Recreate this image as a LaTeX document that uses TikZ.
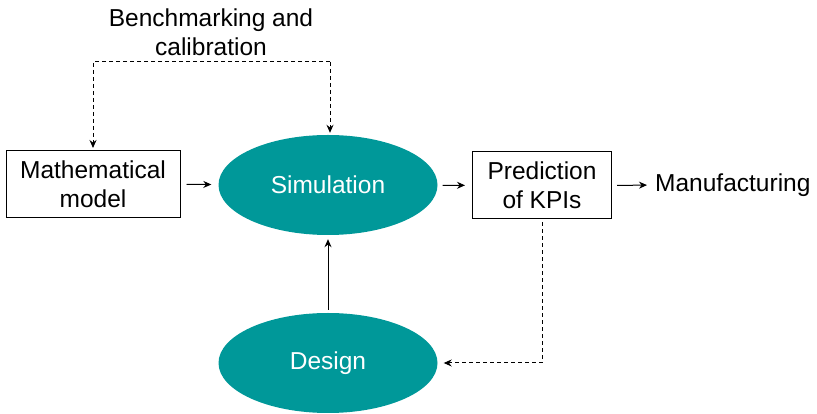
\documentclass[tikz,border=0pt]{standalone}
\usepackage{fontspec}
\setmainfont{Liberation Sans}
\usepackage{tikz}
\usetikzlibrary{arrows.meta,calc,positioning,shapes.geometric}
\definecolor{teal}{RGB}{0,152,153}
\tikzset{
  txt/.style={font=\fontsize{24.5}{29}\selectfont, align=center, inner sep=0pt},
  boxnode/.style={txt, draw, line width=1pt, minimum height=67pt},
  bubble/.style={txt, ellipse, fill=teal, text=white, minimum width=219pt, minimum height=100pt},
  arr/.style={line width=1pt, -{Stealth[length=8pt,width=7pt]}},
  dsh/.style={arr, dash pattern=on 4pt off 3pt}
}

\begin{document}
\begin{tikzpicture}[x=1pt,y=1pt]
\useasboundingbox (0,0) rectangle (817,414);
\node[boxnode, minimum width=174pt] (math) at (93,230) {Mathematical\\model};
\node[bubble] (sim) at (328,229) {Simulation};
\node[boxnode, minimum width=139pt] (pred) at (542,228.5) {Prediction\\of KPIs};
\node[txt, anchor=west] (manu) at (655,229) {Manufacturing};
\node[bubble] (design) at (328,51) {Design};
\node[txt] (bench) at (211,382) {Benchmarking and\\calibration};
% solid flow
\draw[arr, shorten <=6pt, shorten >=7pt] (math) -- (sim);
\draw[arr, shorten <=5pt, shorten >=7pt] (sim) -- (pred);
\draw[arr, shorten <=5pt, shorten >=8pt] (pred.east) -- (manu.west);
\draw[arr, shorten <=3pt, shorten >=4pt] (design) -- (sim);
% dashed loops
\coordinate (top) at (330,352);
\draw[dsh, shorten >=2pt] (top) -| (math.north);
\draw[dsh, shorten >=2pt] (top) -- (top |- sim.north);
\draw[dsh, shorten <=3pt, shorten >=6pt] (pred.south) |- (design.east);
\end{tikzpicture}
\end{document}
